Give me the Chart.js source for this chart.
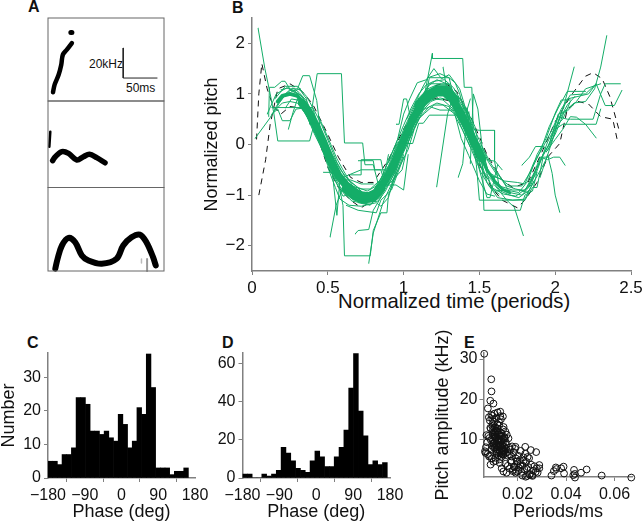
<!DOCTYPE html>
<html>
<head>
<meta charset="utf-8">
<title>Pitch panels</title>
<script src="https://cdn.jsdelivr.net/npm/chart.js@4"></script>
<style>
  html, body { margin: 0; background: #fff; }
  #page { position: relative; width: 642px; height: 523px; overflow: hidden; font-family: "Liberation Sans", Arial, sans-serif; color: #111; }
  #page canvas { position: absolute; left: 0; top: 0; }
  .letter { position: absolute; font-weight: bold; font-size: 16px; line-height: 16px; }
  .scale { position: absolute; font-size: 12px; line-height: 12px; }
  .xname { position: absolute; font-size: 20.3px; line-height: 24px; white-space: nowrap; }
</style>
</head>
<body>
<div id="page">
  <div class="letter" style="left:28px;top:-1px">A</div>
  <div class="letter" style="left:232px;top:0px">B</div>
  <div class="letter" style="left:27px;top:335px">C</div>
  <div class="letter" style="left:222px;top:335px">D</div>
  <div class="letter" style="left:464px;top:335px">E</div>
  <div class="scale" style="left:89px;top:58px">20kHz</div>
  <div class="scale" style="left:126px;top:82px">50ms</div>
  <div class="xname" style="left:338px;top:289px">Normalized time (periods)</div>
</div>
<script>
// panel A: song traces, [ms, kHz] from each box's lower left corner
const syllable1 = [[7.4,5.8,9.8,10.9,15.7,17.5,19.6,24.2,22,30.9,27.9,34.2,35.3,38.6], [33.8,45.7,35.3,45.7]];
const syllable2 = [[3.4,37,2,27], [6.9,17.8,10.8,20.4,20.6,23.8,30.4,22.6,42.6,18.2,52.4,20.4,61.3,22,72,19.8,84.3,16.4]];
const syllable3 = [[10.8,1.6,14.2,8.2,20.6,17.1,30.4,22.2,40.2,19.3,50,10.4,59.8,7.1,79.4,4.9,101.4,8.2,111.2,17.1,123.5,22.6,135.7,24.4,145.5,19.3,155.3,9.3,159.3,3.8]];
const speckles3 = [[138.2,5.3,138.2,8], [146.5,0,146.5,8]];
const scaleBar = [111.2,35.3,111.2,15.3,161.2,15.3];

// panel B: normalized time, normalized pitch
const coreTraces = [
  [.17,.85,.2,.96,.25,1.0,.3,.96,.35,.78],
  [.33,.82,.38,.62,.42,.38,.47,.05,.52,-.32,.57,-.62,.62,-.8,.67,-.93,.72,-1.0,.77,-1.02,.82,-.95,.87,-.75,.92,-.5,.97,-.15,1.02,.22,1.07,.55,1.12,.8,1.17,.95,1.22,1.03,1.27,1.03,1.32,.9,1.37,.65,1.42,.35,1.47,.02,1.52,-.28],
  [.62,-.88,.68,-1.02,.74,-1.08,.8,-1.04,.85,-.88],
  [1.1,.78,1.16,.98,1.22,1.08,1.28,1.08,1.34,.88],
  [1.5,-.2,1.55,-.5,1.6,-.72,1.65,-.88,1.7,-.95]
];
const coreWidths = [4, 8, 9, 9, 3];
const greenTraces = [
  [.04,2.3,.085,1.5,.12,1.0,.145,.6,.17,.07,.38,.07,.41,.4],
  [.02,.12,.12,.53,.16,.75,.2,.95,.25,1.08,.3,1.0,.35,.8],
  [.38,.4,.43,1.4,.59,1.4,.61,.03,.73,.03,.745,-.4,.8,-.4,.83,-.75],
  [.11,.55,.115,1.13,.15,1.13,.196,1.25,.218,1.25,.26,1.05,.32,1.1],
  [.13,.73,.4,.73,.44,.3,.5,-.25],
  [.13,.6,.17,.7,.2,.47,.25,.47,.29,.7,.34,.72],
  [.24,.3,.27,.63,.3,.9,.34,.75,.38,.6],
  [.26,1.1,.3,1.1,.335,1.36,.38,1.36,.427,.87,.45,.3,.5,-.1],
  [.15,.9,.22,1.15,.3,1.15,.36,.9,.38,.42,.44,.42,.48,.1],
  [.1,.6,.16,1.0,.23,1.12,.32,.98,.4,.62,.48,.08,.56,-.55,.64,-.9,.7,-1.15,.78,-1.2,.86,-.92,.92,-.6],
  [.515,-1.83,.555,-1.2,.6,-.85,.66,-.8,.7,-.9],
  [.58,-.9,.6,-1.2,.61,-2.2,.78,-2.2,.8,-1.7,.85,-1.35,.89,-1.35,.9,-1.0,.95,-.6],
  [.77,-2.35,.8,-1.75,.87,-1.1,.95,-.6,1.0,-.2],
  [.68,-1.77,.70,-1.7,.77,-1.68,.8,-1.3,.86,-1.0],
  [.7,-.32,.8,-.32,.81,-.5,.88,-.5,.9,-.2],
  [.65,-.6,.72,-.6,.72,-.3,.85,-.3,.87,-.6,.92,-.6],
  [.6,-.65,.72,-.5,.85,-.5,.88,-.8,.95,-.8,1.0,-.9,1.03,-.2],
  [.62,-1.2,.7,-1.3,.82,-1.35,.85,-1.1,.92,-.9,1.0,-.25],
  [.47,-.55,.53,-.55,.56,-1.4,.58,-.7,.65,-.7,.72,-.78,.8,-.78],
  [.95,.4,.97,.4,1.0,.9,1.02,.9,1.04,.6],
  [.88,-.45,.93,-.2,.96,.04,1.02,.04,1.05,.4,1.12,.85,1.17,1.2,1.3,1.2,1.33,.9],
  [.86,-.9,.93,-.7,.99,-.5,1.04,.15,1.09,.62,1.14,.7,1.22,.82,1.3,.75,1.38,.45,1.44,.1],
  [.9,-.35,.96,.1,1.0,.6,1.04,.9,1.09,1.22,1.15,1.28,1.2,1.5,1.25,1.3,1.3,1.38,1.37,1.1,1.43,.5],
  [.92,-.75,.98,-.4,1.03,-.1,1.07,.3,1.11,.55,1.17,.75,1.24,.68,1.34,.68,1.38,.35,1.44,-.05],
  [1.0,.05,1.06,.48,1.12,.95,1.16,1.15,1.22,1.28,1.3,1.18,1.36,.9,1.4,.7,1.46,.25,1.52,-.3],
  [1.12,.7,1.19,1.8,1.19,1.7,1.39,1.7,1.4,1.13,1.45,1.13,1.46,.3,1.5,.28,1.6,.28,1.6,-.32,1.65,-.5],
  [1.218,-.84,1.29,.6,1.33,.98],
  [1.36,-.65,1.39,-.38,1.4,-.05,1.42,.7,1.44,.9],
  [1.44,-.38,1.46,1.0,1.49,.7,1.52,-.1,1.56,-.55],
  [1.26,1.53,1.29,1.0,1.33,.78,1.38,.5,1.46,.1,1.5,-.5,1.55,-1.05,1.57,-1.05,1.62,-.4],
  [1.3,1.12,1.38,.88,1.45,.38,1.5,-.2,1.55,-.75,1.62,-1.05,1.72,-1.1,1.8,-1.08,1.86,-.72],
  [1.4,.78,1.47,.36,1.52,-.42,1.53,-1.3,1.77,-1.3,1.8,-1.0,1.85,-.92,1.88,-.55],
  [1.43,.65,1.48,-.4,1.5,-1.1,1.8,-1.1,1.85,-.85,1.88,-.85,1.92,-.25,1.96,-.25],
  [1.47,.15,1.52,-.3,1.58,-.85,1.66,-.98,1.74,-1.02,1.82,-.85,1.88,-.45,1.95,-.05,2.02,.45,2.08,.78,2.13,.95],
  [1.5,.02,1.56,-.55,1.6,-.62,1.66,-.72,1.75,-.75,1.8,-.78,1.86,-.35,1.92,-.05,1.98,.3,2.04,.7,2.1,.98,2.2,1.0,2.27,1.2],
  [1.55,-.3,1.6,-.33,1.63,-.82,1.72,-.9,1.8,-.9,1.87,-.6,1.92,-.2,2.0,.2,2.06,.65,2.125,.82,2.2,.85,2.26,1.1,2.3,1.53,2.34,2.15],
  [1.6,-.8,1.68,-1.1,1.73,-1.24,1.79,-1.8],
  [1.62,-.55,1.7,-.95,1.78,-1.0,1.84,-.8,1.9,-.3,1.96,.0,2.02,.55,2.08,.5,2.1,.5,2.25,.5,2.3,1.0,2.33,1.2,2.43,1.2],
  [1.78,-.41,1.83,-.25,1.87,-.04,1.92,-.04,1.95,-.12,1.98,.08,2.03,.55,2.08,.9,2.15,.95,2.22,1.0,2.27,1.2,2.33,.77,2.39,.77,2.44,1.07],
  [1.76,-.9,1.82,-.95,1.9,-.52,1.94,-.3,2.0,.25,2.06,.8,2.125,1.53],
  [1.83,-.82,1.9,-.25,1.95,-.3,1.99,-.25,2.03,-.25,2.065,-.41],
  [1.9,-.65,1.95,-.2,1.98,-.57,2.0,-1.0,2.03,-1.34],
  [1.94,-.15,2.0,.1,2.05,.3,2.1,.55,2.14,.54,2.2,.4,2.27,.13],
  [2.0,.3,2.05,.4,2.15,.4,2.27,.4,2.3,.7],
  [1.97,.1,2.02,.6,2.08,.66,2.14,.85,2.2,1.1,2.3,1.2],
  // the crowded part of the band
  [.14,.62,.18,.82,.22,.98,.27,1.12,.31,1.03,.36,.86,.41,.55,.46,.22,.5,-.02,.55,-.4,.6,-.72,.66,-.82,.72,-.88,.78,-.88,.84,-.72,.9,-.42,.95,-.08,1.0,.3,1.05,.62,1.1,.92,1.16,1.1,1.22,1.18,1.28,1.18,1.34,1.0,1.4,.62,1.45,.3],
  [.16,.7,.2,.82,.25,.85,.3,.82,.35,.62,.4,.32,.44,.05,.48,-.22,.52,-.52,.56,-.78,.6,-.95,.66,-1.12,.72,-1.15,.78,-1.18,.84,-1.05,.9,-.78,.95,-.52,1.0,-.15,1.05,.18,1.1,.55,1.15,.82,1.2,.9,1.26,.88,1.32,.72,1.38,.42,1.44,.02,1.5,-.45],
  [.19,1.08,.24,1.12,.28,1.06,.33,.95,.38,.72,.43,.42,.48,.12,.53,-.2,.58,-.48,.64,-.72,.7,-.85,.76,-.92,.82,-.82,.88,-.55,.93,-.28,.98,.08,1.03,.42,1.08,.72,1.13,.98,1.18,1.08,1.24,1.15,1.3,1.08,1.36,.82,1.41,.55,1.47,.12,1.53,-.25],
  [.22,.72,.26,.9,.3,.88,.34,.66,.39,.42,.44,.12,.49,-.3,.54,-.62,.59,-.88,.65,-1.05,.71,-1.12,.77,-1.14,.83,-1.12,.88,-.92,.93,-.62,.98,-.25,1.03,.05,1.08,.38,1.13,.68,1.18,.85,1.24,.92,1.3,.88,1.36,.55,1.42,.18,1.48,-.22,1.54,-.65],
  [.31,1.12,.36,.95,.41,.68,.46,.38,.51,.02,.56,-.35,.61,-.62,.67,-.78,.73,-.95,.79,-.96,.85,-.68,.9,-.32,.95,.02,1.0,.38,1.05,.72,1.1,1.0,1.15,1.18,1.2,1.25,1.27,1.28,1.33,1.12,1.39,.8,1.45,.42,1.5,.08,1.56,-.35,1.62,-.62],
  [.36,.58,.41,.22,.46,-.08,.5,-.42,.55,-.72,.6,-1.02,.66,-.98,.72,-1.08,.78,-1.08,.84,-.98,.89,-.68,.94,-.45,.99,-.05,1.04,.3,1.09,.48,1.14,.62,1.2,.78,1.26,.78,1.33,.62,1.39,.28,1.45,-.12,1.51,-.55,1.57,-.85,1.63,-.98],
  [.44,.55,.48,.28,.52,.0,.56,-.28,.6,-.5,.65,-.75,.7,-1.02,.8,-1.12,.82,-.8,.9,-.8,.92,-.35,1.0,.18,1.05,.18,1.08,.85,1.14,.85,1.17,1.32,1.3,1.32,1.35,.72,1.42,.72,1.44,.0],
  [.5,-.45,.55,-.85,.58,-1.08,.64,-1.2,.72,-1.22,.82,-1.15,.85,-1.22,.9,-1.05,.96,-.42,.98,.02,1.06,.02,1.1,.42,1.13,.42,1.17,.58,1.34,.58,1.38,.12,1.43,-.22,1.5,-.72,1.55,-.98,1.6,-1.02],
  [1.02,.5,1.07,.78,1.12,1.1,1.16,1.32,1.24,1.4,1.3,1.32,1.34,1.22,1.37,1.0,1.42,.42,1.47,-.05,1.52,-.52,1.58,-.7,1.64,-.92,1.7,-1.0,1.76,-1.05,1.83,-.9],
  [1.52,-.05,1.57,-.35,1.62,-.58,1.68,-.82,1.74,-.88,1.8,-.92,1.85,-.62,1.9,-.35,1.95,.05,2.0,.35,2.05,.5,2.1,.85],
  [1.54,-.6,1.6,-.92,1.68,-.9,1.76,-.95,1.82,-.72,1.88,-.2,1.94,.12,2.0,.62,2.04,.88,2.1,.88],
  [1.58,-.62,1.64,-.68,1.7,-.82,1.78,-.82,1.84,-.52,1.9,-.15,1.96,.35,2.02,.72,2.08,1.05,2.2,1.05]
];
const dashedTraces = [
  [.045,-1,.09,-.3,.12,.4,.17,1.1,.25,1.2,.33,1.05,.4,.8,.5,.2,.57,-.25,.65,-.65,.72,-.75,.8,-.75,.9,-.3,1.0,.3,1.1,.85,1.2,1.15,1.27,1.22,1.35,1.05,1.45,.5,1.55,-.2,1.65,-.7,1.72,-.85,1.82,-.75,1.92,-.1,2.0,.45,2.1,.95,2.2,1.35,2.25,1.42,2.31,1.3,2.36,.95,2.42,.3],
  [.03,.1,.045,1.0,.065,1.6,.1,1.1,.14,.75,.19,.6,.25,.75,.33,.72,.4,.45,.5,-.45,.57,-.85,.65,-1.1,.72,-1.25,.8,-1.1,.87,-.8,.95,-.3,1.05,.3,1.15,.85,1.22,.92,1.32,.85,1.4,.45,1.5,-.4,1.58,-.85,1.65,-1.1,1.75,-1.25,1.8,-1.1,1.88,-.75,1.95,-.25,2.03,.02,2.08,.7,2.15,.85,2.22,.8,2.3,.55,2.38,.5,2.41,.08]
];
const pitchTicksX = [0, 0.5, 1, 1.5, 2, 2.5];
const pitchTicksY = [-2, -1, 0, 1, 2];

// panels C and D: phase histograms
const phaseTicks = [-180, -90, 0, 90, 180];
const binsC = [-174.3,-162.8,-151.4,-139.9,-128.4,-117,-105.5,-94.1,-82.6,-71.1,-59.7,-48.2,-36.8,-25.3,-13.8,-2.4,9.1,20.5,32,43.5,54.9,66.4,77.8,89.3,100.8,112.2,123.7,135.1,146.6,158.1];
const countsC = [5,5,4,7,7,9,24,24,22,14,14,13,14,12,11,19,16,9,11,21,19,37,27,3,3,3,1,2,2,3];
const ticksC = [0, 10, 20, 30];
const binsD = [-174.1,-162.3,-150.6,-138.8,-127,-115.2,-103.4,-91.7,-79.9,-68.1,-56.3,-44.5,-32.8,-21,-9.2,2.6,14.4,26.2,37.9,49.7,61.5,73.3,85.1,96.8,108.6,120.4,132.2,144,155.7,167.5];
const countsD = [2,2,0,0,2,1,2,4,16,13,9,5,4,3,9,14,11,6,6,11,16,25,47,65,35,22,7,9,7,8];
const ticksD = [0, 20, 40, 60];

// panel E: periods per ms against pitch amplitude
const periods = [.0063,.0092,.0093,.0088,.0101,.0078,.0129,.014,.0092,.0277,.0255,.0232,.0192,.029,.029,.028,.034,.0358,.036,.035,.039,.038,.0392,.0433,.0436,.043,.0437,.0462,.0485,.0547,.0669,
  .0068,.007,.0072,.0066,.0075,.0078,.008,.0083,.0086,.0088,.0091,.0094,.0097,.0099,.0102,.0104,.0107,.011,.0112,.0115,.0118,.012,.0122,.0125,.0127,.013,.0132,.0135,.0138,.014,.0143,.0146,.0148,.015,.0153,.0156,
  .0085,.009,.0095,.0098,.0103,.0106,.0109,.0113,.0116,.0119,.0121,.0124,.0128,.0131,.0134,.0137,.0141,.0144,.0147,.0151,.0105,.0096,.0089,.0101,.0108,.0111,.0117,.0123,.0126,.0133,.0139,.0142,
  .0082,.0087,.0093,.01,.0107,.0114,.012,.0127,.0134,.0097,.0104,.0112,.0118,.0129,.0136,.0145,.0152,.0158,.016,.0163,
  .0165,.0168,.017,.0173,.0176,.0178,.0182,.0185,.0188,.019,.0194,.0197,.02,.0203,.0206,.021,.0213,.0216,.022,.0224,.0228,.0232,.0236,.024,.0244,.0248,.0252,.0256,.026,.0265,.027,.0275,.0283,
  .0135,.0142,.015,.0155,.016,.0168,.0175,.018,.0186,.0192,.0198,.0205,.0212,.022,.0226,.0234,.0238,.0242,.025,.0262,
  .0098,.0101,.0105,.0108,.0111,.0114,.0117,.012,.0123,.0126,.0129,.0132,.0135,.0138,.0141,.0099,.0103,.0106,.0109,.0112,.0115,.0118,.0121,.0124,.0127,.013,.0133,.0136,.0139,.0142,.0145,.0148];
const amplitude = [31.3,25,22,19.7,19,17.8,17,15.8,16.2,7,7.5,8.3,8.3,3.8,3,3,1.2,3.2,2.8,2.3,3.4,3,1.7,2.6,1.6,1.3,.7,1.9,2.7,1.2,.7,
  6.8,8.2,11.2,7.2,9.4,6.5,11,5.9,14.8,13,9.9,5.4,16,12.4,8.1,14.5,10.6,4.8,15.4,7.7,12.8,9.6,6.2,13.6,10.9,8.4,15.1,11.6,6.7,9.2,13.2,7.4,10.3,12.1,8.8,11.3,
  10.5,12.8,8.6,14,11.2,9.3,13.1,6.9,10.1,12.2,8.9,14.4,7.1,11.8,9.7,6.4,12.6,8.3,10.7,7.9,16.5,15.2,3.9,4.6,5.6,12.1,13.9,11.4,5.2,9.9,7.5,10.2,
  15.6,6.1,7.8,9.1,11.7,6.6,10,4.3,5.8,13.4,10.9,8.7,16.8,15.9,11,8.2,9.4,7,6.1,10.4,
  8.1,6.4,7.6,4.9,5.9,8.4,2.6,6.9,3.4,7.8,5.4,2.2,4.2,6.1,3.1,5,7.3,2.1,3.7,5.7,2.8,6.6,4.6,1.1,3.3,5.5,1.6,3.9,1.3,2.4,3.5,2.1,1.9,
  3,2.2,4.1,1.9,3.6,2.9,4.5,2.3,3.3,1.9,4.7,2.5,3.8,1.2,4.9,.9,2.9,5.8,1.4,1.1,
  11.5,9,12.9,8,10.8,7.2,11.9,8.9,10.2,7.4,9.5,11,7.9,8.6,7,9.8,12,8.2,10.4,9.1,7.6,11.3,8.5,9.9,7.3,8.8,6.9,8,7.5,6.3,7.1,6.6];
const ticksEx = [0.02, 0.04, 0.06];
const ticksEy = [10, 20, 30];

const ink = "#111";
const axisGrey = "#808080";
const green = "#14ad68";
const page = document.getElementById("page");

function toPoints(flat) {
  const pts = [];
  for (let i = 0; i < flat.length; i += 2) pts.push({ x: flat[i], y: flat[i + 1] });
  return pts;
}

function addChart(config) {
  const canvas = document.createElement("canvas");
  canvas.width = 642;
  canvas.height = 523;
  page.appendChild(canvas);
  config.options.responsive = false;
  config.options.animation = false;
  config.options.plugins = { legend: { display: false }, tooltip: { enabled: false } };
  return new Chart(canvas, config);
}

function axis(ticks, min, max, size, pad, extra) {
  return Object.assign({
    type: "linear",
    min: min,
    max: max,
    border: { color: axisGrey, width: 1.5 },
    grid: { drawOnChartArea: false, color: axisGrey, tickLength: 4, lineWidth: 1 },
    afterBuildTicks: s => { s.ticks = ticks.map(v => ({ value: v })); },
    ticks: {
      color: ink,
      font: { family: "Liberation Sans", size: size },
      padding: pad,
      maxRotation: 0,
      autoSkip: false,
      callback: v => String(v).replace("-", "\u2212")
    }
  }, extra);
}

// fixes the plot rectangle, whatever the labels need
function framed(box, xAxis, yAxis) {
  xAxis.afterFit = s => { s.height = box.titleBottom - box.bottom; s.paddingLeft = 0; s.paddingRight = 0; };
  yAxis.afterFit = s => { s.width = box.left - box.titleLeft; s.paddingTop = 0; s.paddingBottom = 0; };
  return {
    maintainAspectRatio: false,
    layout: { padding: { left: box.titleLeft, top: box.top, right: 642 - box.right, bottom: 523 - box.titleBottom } },
    scales: { x: xAxis, y: yAxis }
  };
}

function title(text, size, shift) {
  return {
    display: true,
    text: text,
    color: ink,
    padding: { top: shift || 0, bottom: 0 },
    font: { family: "Liberation Sans", size: size }
  };
}

// panel A
const frameBox = {
  id: "frameBox",
  afterDraw(chart) {
    const a = chart.chartArea, c = chart.ctx;
    c.save();
    c.strokeStyle = "#666";
    c.lineWidth = 1;
    c.strokeRect(a.left, a.top, a.right - a.left, a.bottom - a.top);
    c.restore();
  }
};

function inkLine(flat, width, color) {
  return {
    data: toPoints(flat),
    showLine: true,
    borderColor: color || "#000",
    borderWidth: width,
    pointRadius: 0,
    borderCapStyle: "round",
    borderJoinStyle: "round",
    clip: false
  };
}

function songLine(flat, width) {
  const d = inkLine(flat, width);
  d.tension = 0.35;
  return d;
}

function songBox(top, bottom, maxKhz, datasets) {
  addChart({
    type: "scatter",
    data: { datasets: datasets },
    options: {
      layout: { padding: { left: 48, right: 642 - 164, top: top, bottom: 523 - bottom } },
      scales: {
        x: { type: "linear", display: false, min: 0, max: 171.5 },
        y: { type: "linear", display: false, min: 0, max: maxKhz }
      }
    },
    plugins: [frameBox]
  });
}

songBox(18, 101, 55.3, [
  songLine(syllable1[0], 4.5),
  inkLine(syllable1[1], 5),
  inkLine(scaleBar, 1, "#222")
]);
songBox(101, 187.5, 57.3, [
  inkLine(syllable2[0], 2.5),
  songLine(syllable2[1], 5.5)
]);
songBox(187.5, 271, 56, [
  songLine(syllable3[0], 6),
  inkLine(speckles3[0], 1.5, "#bbb"),
  inkLine(speckles3[1], 2, "#999")
]);

// panel B
const pitchSets = [];
greenTraces.forEach(t => pitchSets.push(inkLine(t, 1, green)));
coreTraces.forEach((t, i) => pitchSets.push(inkLine(t, coreWidths[i], green)));
dashedTraces.forEach(t => {
  const d = inkLine(t, 1, "#111");
  d.borderDash = [6, 5];
  d.borderCapStyle = "butt";
  pitchSets.push(d);
});
addChart({
  type: "scatter",
  data: { datasets: pitchSets },
  options: framed(
    { left: 252, right: 631, top: 18, bottom: 271, titleLeft: 201, titleBottom: 315 },
    axis(pitchTicksX, 0, 2.5, 17, 3, {}),
    axis(pitchTicksY, -2.5, 2.5, 17, 3, { title: title("Normalized pitch", 18) })
  )
});

// panels C and D
function histogram(box, bins, counts, yTicks, yMax, yTitle) {
  addChart({
    type: "bar",
    data: {
      datasets: [{
        data: bins.map((b, i) => ({ x: b, y: counts[i] })),
        backgroundColor: "#000",
        borderWidth: 0,
        barPercentage: 1,
        categoryPercentage: 1
      }]
    },
    options: framed(
      box,
      axis(phaseTicks, -180, 180, 16, 4, { offset: false, title: title("Phase (deg)", 18, -3) }),
      axis(yTicks, 0, yMax, 16, 3, yTitle ? { title: title(yTitle, 18, -2) } : {})
    )
  });
}
histogram({ left: 48, right: 195, top: 353, bottom: 478, titleLeft: 0, titleBottom: 523 }, binsC, countsC, ticksC, 37.3, "Number");
histogram({ left: 242.5, right: 390, top: 353, bottom: 478, titleLeft: 212, titleBottom: 523 }, binsD, countsD, ticksD, 65.3, "");

// panel E
addChart({
  type: "scatter",
  data: {
    datasets: [{
      data: periods.map((p, i) => ({ x: p, y: amplitude[i] })),
      backgroundColor: "rgba(0,0,0,0)",
      borderColor: "#111",
      borderWidth: 1,
      pointRadius: 3.4,
      clip: false
    }]
  },
  options: framed(
    { left: 483.5, right: 632.5, top: 353, bottom: 477, titleLeft: 432, titleBottom: 523 },
    axis(ticksEx, 0.006, 0.0674, 16, 4, { title: title("Periods/ms", 18, -3) }),
    axis(ticksEy, 0.84, 31.5, 16, 2, { title: title("Pitch amplitude (kHz)", 18) })
  )
});
</script>
</body>
</html>
